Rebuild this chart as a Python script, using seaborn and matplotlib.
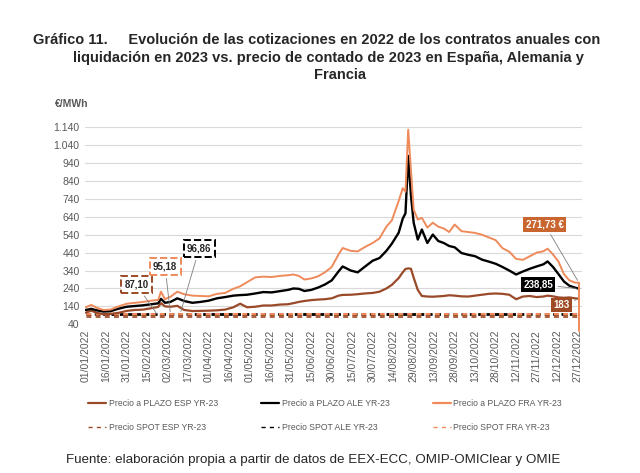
import pandas as pd
import numpy as np
import matplotlib
matplotlib.use("Agg")
import matplotlib.pyplot as plt
import matplotlib.dates as mdates
import seaborn as sns

# days since 01/01/2022 where the forward curves were read
day_offsets = [0, 4, 8, 13, 18, 24, 30, 36, 42, 48, 53, 55, 58, 62, 67, 72, 78, 84, 90, 96,
               102, 108, 113, 118, 124, 130, 136, 142, 148, 152, 156, 160, 165, 170, 175, 180,
               185, 188, 194, 199, 204, 210, 215, 220, 224, 229, 232, 234, 236, 238, 240, 243,
               246, 250, 254, 258, 262, 266, 270, 275, 280, 285, 290, 295, 300, 305, 310, 315,
               320, 325, 330, 335, 338, 342, 346, 350, 354, 358, 361]

plazo_fra = [135, 148, 132, 120, 122, 140, 155, 160, 165, 172, 176, 222, 180, 194, 222, 208, 200, 198, 196, 210,
             215, 238, 252, 275, 302, 306, 304, 310, 314, 318, 310, 290, 296, 308, 330, 360,
             430, 466, 450, 447, 470, 494, 520, 585, 620, 728, 800, 780, 1127, 900, 680, 625,
             634, 580, 607, 585, 575, 555, 597, 560, 555, 550, 540, 525, 510, 465, 445, 405,
             400, 420, 440, 448, 462, 430, 390, 320, 285, 273, 271.73]

plazo_ale = [120, 126, 118, 111, 113, 127, 138, 142, 146, 152, 157, 182, 160, 165, 185, 170, 160, 165, 172, 185,
             192, 200, 203, 205, 212, 220, 218, 225, 232, 240, 238, 226, 232, 245, 262, 285,
             335, 363, 340, 330, 360, 395, 410, 450, 490, 551, 630, 660, 980, 760, 607, 513,
             569, 494, 541, 505, 494, 477, 470, 438, 428, 420, 401, 390, 378, 360, 340, 318,
             335, 350, 363, 375, 391, 360, 320, 279, 255, 245, 238.85]

plazo_esp = [105, 116, 104, 96, 98, 104, 115, 120, 122, 130, 137, 158, 140, 138, 143, 120, 114, 115, 116, 118,
             122, 135, 155, 135, 138, 145, 145, 150, 152, 158, 165, 170, 175, 178, 180, 185,
             200, 204, 205, 208, 212, 215, 222, 240, 260, 298, 330, 349, 352, 350, 300, 232,
             198, 195, 194, 196, 198, 202, 200, 196, 195, 200, 205, 210, 212, 210, 205, 180,
             195, 198, 192, 195, 200, 196, 190, 188, 190, 185, 183]

fra_last_drop = 5  # the FRA curve falls off the bottom on the last day

spot_esp = 87.10
spot_ale = 96.86
spot_fra = 95.18

col_esp = "#9a4a28"
col_ale = "#000000"
col_fra = "#ef8a5b"
grey_txt = "#595959"

start = pd.Timestamp("2022-01-01")
dates = start + pd.to_timedelta(day_offsets, unit="D")
df = pd.DataFrame({"fecha": dates, "FRA": plazo_fra, "ALE": plazo_ale, "ESP": plazo_esp})

sns.set_style("white")
plt.rcParams["font.family"] = ["Liberation Sans", "DejaVu Sans"]

fig = plt.figure(figsize=(6.4, 4.73), dpi=100)
ax = fig.add_axes([0.133, 0.3144, 0.777, 0.4165])

# spot prices (dashed, constant over the year)
spot_df = pd.DataFrame({"fecha": [dates[0], dates[-1]]})
sns.lineplot(x=spot_df["fecha"], y=[spot_ale] * 2, ax=ax, color=col_ale, lw=2)
ax.lines[-1].set_dashes((1.6, 1.4))
sns.lineplot(x=spot_df["fecha"], y=[spot_fra] * 2, ax=ax, color=col_fra, lw=2.2)
ax.lines[-1].set_dashes((1.6, 1.4))
sns.lineplot(x=spot_df["fecha"], y=[spot_esp] * 2, ax=ax, color=col_esp, lw=2.2)
ax.lines[-1].set_dashes((1.6, 1.4))
ax.lines[-1].set_alpha(0.85)

# forward curves
sns.lineplot(data=df, x="fecha", y="ESP", ax=ax, color=col_esp, lw=1.6)
sns.lineplot(data=df, x="fecha", y="ALE", ax=ax, color=col_ale, lw=1.7)
sns.lineplot(data=df, x="fecha", y="FRA", ax=ax, color=col_fra, lw=1.4)
ax.plot([dates[-1], dates[-1]], [plazo_fra[-1], fra_last_drop], color=col_fra, lw=1.4, clip_on=False)

ax.set_ylim(40, 1140)
ax.set_xlim(start - pd.Timedelta(days=0.5), start + pd.Timedelta(days=363.5))
ax.set_yticks(np.arange(40, 1141, 100))
ax.set_yticklabels([f"{v:,}".replace(",", ".") for v in range(40, 1141, 100)])
xt = pd.date_range("2022-01-01", "2022-12-31", freq="15D")
ax.set_xticks(xt)
ax.xaxis.set_major_formatter(mdates.DateFormatter("%d/%m/%Y"))
plt.setp(ax.get_xticklabels(), rotation=90)
ax.tick_params(axis="both", colors=grey_txt, labelsize=7.5, length=0, pad=4)
ax.grid(axis="y", color="#d9d9d9", lw=0.8)
for s in ax.spines.values():
    s.set_visible(False)
ax.set_xlabel("")
ax.set_ylabel("")

# spot labels
lead = dict(arrowstyle="-", color="#7f7f7f", lw=0.6)
ax.annotate("87,10", xy=(start + pd.Timedelta(days=53), spot_esp), xytext=(start + pd.Timedelta(days=37), 262),
            ha="center", va="center", fontsize=7, fontweight="bold", color="#262626",
            bbox=dict(boxstyle="square,pad=0.35", fc="white", ec=col_esp, ls="--", lw=1.4),
            arrowprops=lead)
ax.annotate("95,18", xy=(start + pd.Timedelta(days=62), spot_fra), xytext=(start + pd.Timedelta(days=58), 362),
            ha="center", va="center", fontsize=7, fontweight="bold", color="#262626",
            bbox=dict(boxstyle="square,pad=0.35", fc="white", ec=col_fra, ls="--", lw=1.4),
            arrowprops=lead)
ax.annotate("96,86", xy=(start + pd.Timedelta(days=69), spot_ale), xytext=(start + pd.Timedelta(days=83), 462),
            ha="center", va="center", fontsize=7, fontweight="bold", color="#262626",
            bbox=dict(boxstyle="square,pad=0.35", fc="white", ec=col_ale, ls="--", lw=1.4),
            arrowprops=lead)

# last values
ax.annotate("271,73 €", xy=(dates[-1], plazo_fra[-1]), xytext=(start + pd.Timedelta(days=336), 596),
            ha="center", va="center", fontsize=7, fontweight="bold", color="white",
            bbox=dict(boxstyle="square,pad=0.25", fc="#c9662f", ec="none"), arrowprops=lead)
ax.annotate("238,85", xy=(dates[-1], plazo_ale[-1]), xytext=(start + pd.Timedelta(days=331), 263),
            ha="center", va="center", fontsize=7, fontweight="bold", color="white",
            bbox=dict(boxstyle="square,pad=0.25", fc="black", ec="none"), arrowprops=lead)
ax.annotate("183", xy=(dates[-1], plazo_esp[-1]), xytext=(start + pd.Timedelta(days=348), 148),
            ha="center", va="center", fontsize=7, fontweight="bold", color="white",
            bbox=dict(boxstyle="square,pad=0.25", fc="#9e4a24", ec="none"), arrowprops=lead)

fig.text(0.086, 0.78, "€/MWh", fontsize=7.5, fontweight="bold", color=grey_txt, ha="left", va="center")

# titles
fig.text(0.052, 0.915, "Gráfico 11.     Evolución de las cotizaciones en 2022 de los contratos anuales con",
         fontsize=10.5, fontweight="bold", ha="left", va="center")
fig.text(0.513, 0.878, "liquidación en 2023 vs. precio de contado de 2023 en España, Alemania y",
         fontsize=10.5, fontweight="bold", ha="center", va="center")
fig.text(0.531, 0.841, "Francia", fontsize=10.5, fontweight="bold", ha="center", va="center")

# legend
h = [plt.Line2D([], [], color=col_esp, lw=1.6), plt.Line2D([], [], color=col_esp, lw=1, ls=(0, (3, 3))),
     plt.Line2D([], [], color=col_ale, lw=1.6), plt.Line2D([], [], color=col_ale, lw=1, ls=(0, (3, 3))),
     plt.Line2D([], [], color=col_fra, lw=1.6), plt.Line2D([], [], color=col_fra, lw=1, ls=(0, (3, 3)))]
labs = ["Precio a PLAZO ESP YR-23", "Precio SPOT ESP YR-23",
        "Precio a PLAZO ALE YR-23", "Precio SPOT ALE YR-23",
        "Precio a PLAZO FRA YR-23", "Precio SPOT FRA YR-23"]
leg = fig.legend(h, labs, ncol=3, loc="center", bbox_to_anchor=(0.508, 0.122), frameon=False,
                 fontsize=6.2, handlelength=2.1, handletextpad=0.3, columnspacing=5.0, labelspacing=1.75)
for t in leg.get_texts():
    t.set_color(grey_txt)

fig.text(0.49, 0.027, "Fuente: elaboración propia a partir de datos de EEX-ECC, OMIP-OMIClear y OMIE",
         fontsize=9.6, ha="center", va="center")

fig.savefig("out.png", dpi=100)
